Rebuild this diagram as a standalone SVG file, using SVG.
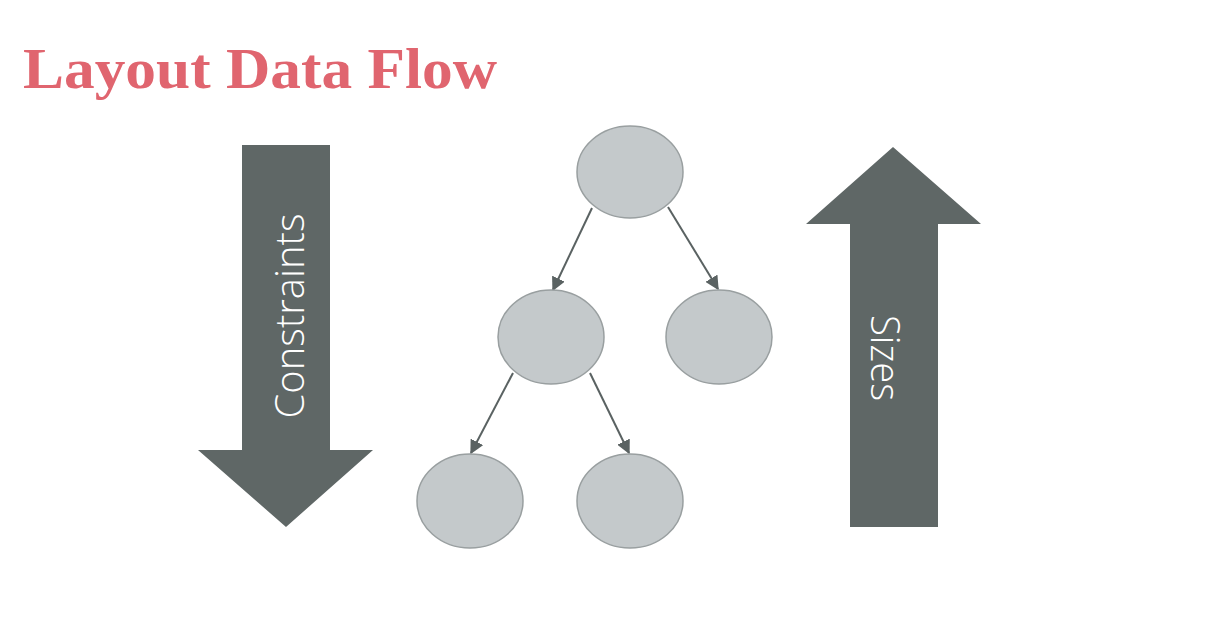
<svg xmlns="http://www.w3.org/2000/svg" width="1214" height="618" viewBox="0 0 1214 618">
<defs>
<style>
.big{fill:#5f6766}
.node{fill:#c4c9cb;stroke:#999fa0;stroke-width:1.5}
.edge{stroke:#5a6262;stroke-width:2;fill:none;marker-end:url(#ah)}
.lbl{fill:#ffffff;font-family:"Open Sans",Lato,sans-serif;font-weight:300;font-size:40px}
</style>
<marker id="ah" viewBox="0 0 10 10" refX="9" refY="5" markerWidth="7" markerHeight="7" orient="auto" markerUnits="strokeWidth">
<path d="M0,0 L10,5 L0,10 z" fill="#5a6262"/>
</marker>
</defs>
<rect width="1214" height="618" fill="#ffffff"/>
<text x="23" y="88" font-family="'Liberation Serif',serif" font-weight="bold" font-size="56" fill="#e0656f" textLength="474" lengthAdjust="spacingAndGlyphs">Layout Data Flow</text>
<g id="constraints-arrow">
<polygon class="big" points="242,145 330,145 330,450 373,450 286,527 198,450 242,450"/>
<text class="lbl" transform="translate(288,316) rotate(-90)" text-anchor="middle" dominant-baseline="central" textLength="205" lengthAdjust="spacingAndGlyphs">Constraints</text>
</g>
<g id="sizes-arrow">
<polygon class="big" points="893,147 981,224 938,224 938,527 850,527 850,224 806,224"/>
<text class="lbl" transform="translate(886,358) rotate(90)" text-anchor="middle" dominant-baseline="central" textLength="86" lengthAdjust="spacingAndGlyphs">Sizes</text>
</g>
<g id="connectors">
<line class="edge" x1="592" y1="208" x2="553" y2="290"/>
<line class="edge" x1="668" y1="207" x2="718" y2="289"/>
<line class="edge" x1="513" y1="373" x2="471" y2="453"/>
<line class="edge" x1="590" y1="373" x2="629" y2="453"/>
</g>
<g id="n-root"><ellipse class="node" cx="630" cy="172" rx="53" ry="46"/></g>
<g id="n-left"><ellipse class="node" cx="551" cy="337" rx="53" ry="47"/></g>
<g id="n-right"><ellipse class="node" cx="719" cy="337" rx="53" ry="47"/></g>
<g id="n-ll"><ellipse class="node" cx="470" cy="501" rx="53" ry="47"/></g>
<g id="n-lr"><ellipse class="node" cx="630" cy="501" rx="53" ry="47"/></g>
</svg>
